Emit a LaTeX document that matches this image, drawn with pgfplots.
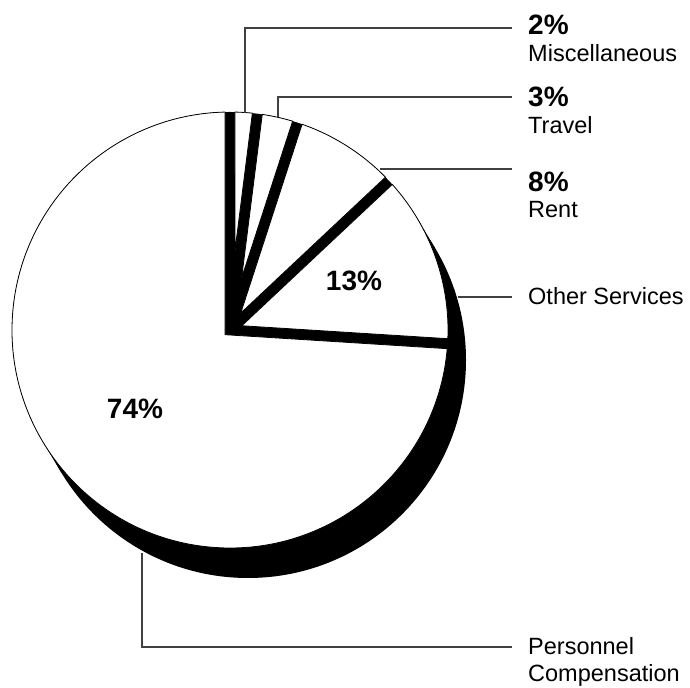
\documentclass[border=0pt]{standalone}
\usepackage{fontspec}
\setmainfont{Liberation Sans}
\usepackage{pgfplots}
\pgfplotsset{compat=1.18}
\usepackage{pgfplotstable}

% shares of the budget, clockwise from 12 o'clock
\pgfplotstableread{
name value
Miscellaneous 2
Travel 3
Rent 8
Other 13
Personnel 74
}\piedata

\def\R{218}%   pie radius (bp)
\def\gap{5}%   half width of the dark gap between slices
\def\dx{18}%   depth of the pie
\def\dy{-30}%

\begin{document}
\begin{tikzpicture}[
    lab/.style={inner sep=0pt, anchor=base west, font=\fontsize{23.5bp}{27bp}\selectfont},
    pct/.style={inner sep=0pt, anchor=base west, font=\bfseries\fontsize{28bp}{30bp}\selectfont},
    big/.style={inner sep=0pt, anchor=base, font=\bfseries\fontsize{28bp}{30bp}\selectfont},
    leader/.style={draw=black!75, line width=1.3bp},
]
\begin{axis}[
    x=1bp, y=1bp,
    xmin=0, xmax=690, ymin=0, ymax=688,
    enlargelimits=false,
    hide axis,
    clip=false,
]
\pgfplotsextra{
    \path (axis cs:0,0) rectangle (axis cs:690,688);
    \coordinate (C) at (axis cs:230,358);
    % side of the pie
    \fill[black] (C) circle[radius=\R bp];
    \fill[black] ([shift={(\dx bp,\dy bp)}]C) circle[radius=\R bp];
    \fill[black] ([shift={(186.9bp,112.2bp)}]C) -- ([shift={(-186.9bp,-112.2bp)}]C)
        -- ([shift={(\dx bp-186.9bp,\dy bp-112.2bp)}]C)
        -- ([shift={(\dx bp+186.9bp,\dy bp+112.2bp)}]C) -- cycle;
    % tops of the slices
    \pgfplotstablegetrowsof{\piedata}
    \pgfmathtruncatemacro\nrows{\pgfplotsretval-1}
    \xdef\cum{90}
    \foreach \i in {0,...,\nrows}{
        \pgfplotstablegetelem{\i}{value}\of\piedata
        \pgfmathsetmacro\spn{\pgfplotsretval*3.6}
        \pgfmathsetmacro\aE{\cum-\spn}
        \pgfmathsetmacro\am{\cum-\spn/2}
        \pgfmathsetmacro\sh{\gap/sin(\spn/2)}
        \pgfmathsetmacro\del{asin(\gap/\R)}
        \pgfmathsetmacro\aa{\cum-\del}
        \pgfmathsetmacro\ab{\aE+\del}
        \filldraw[fill=white, draw=black, line width=0.8bp]
            ([shift={(\am:\sh bp)}]C) -- ([shift={(\aa:\R bp)}]C)
            arc[start angle=\aa, end angle=\ab, radius=\R bp] -- cycle;
        \xdef\cum{\aE}
    }
}
% leader lines
\addplot[leader] coordinates {(245,575) (245,660) (512,660)};
\addplot[leader] coordinates {(278,571) (278,591) (512,591)};
\addplot[leader] coordinates {(380,519) (512,519)};
\addplot[leader] coordinates {(458,391) (512,391)};
\addplot[leader] coordinates {(142,135) (142,41) (512,41)};

\node[pct] at (axis cs:528,653) {2\%};
\node[lab] at (axis cs:528,626) {Miscellaneous};
\node[pct] at (axis cs:528,581) {3\%};
\node[lab] at (axis cs:528,554) {Travel};
\node[pct] at (axis cs:528,496) {8\%};
\node[lab] at (axis cs:528,470) {Rent};
\node[lab] at (axis cs:528,383) {Other Services};
\node[lab] at (axis cs:528,33) {Personnel};
\node[lab] at (axis cs:528,6) {Compensation};

\node[big] at (axis cs:354,397) {13\%};
\node[big] at (axis cs:135,269) {74\%};
\end{axis}
\end{tikzpicture}
\end{document}
